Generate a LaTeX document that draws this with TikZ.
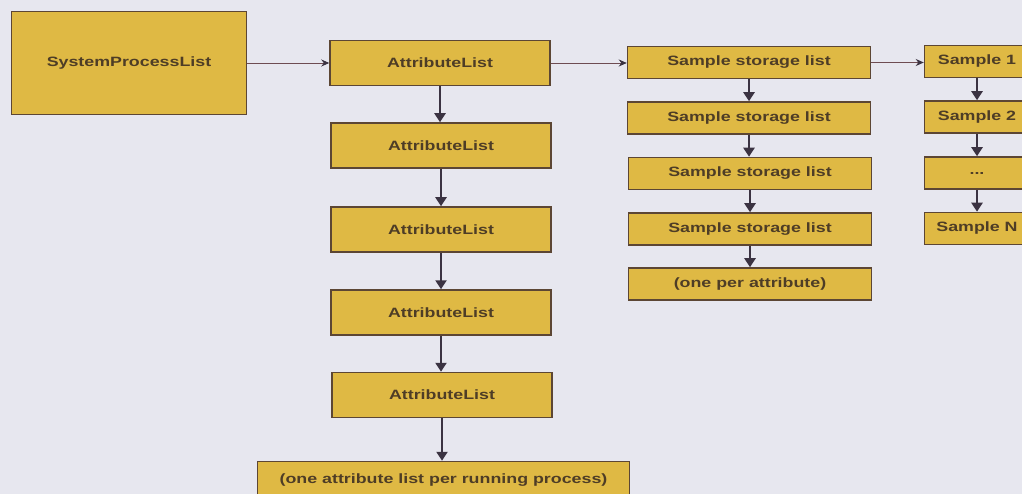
\documentclass[tikz,border=0pt]{standalone}
\usepackage{graphicx}
\usepackage{fontspec}
\setmainfont{Liberation Sans}
\usetikzlibrary{arrows.meta}

\definecolor{bg}{HTML}{E7E7EF}
\definecolor{boxfill}{HTML}{DFB944}
\definecolor{boxline}{HTML}{5C4634}
\definecolor{ink}{HTML}{4E3D26}
\definecolor{thinline}{HTML}{6E4C52}
\definecolor{arrowc}{HTML}{3B3342}

% labels are set slightly widened
\newcommand\widelabel[1]{\scalebox{1.32}[1]{#1}}

\tikzset{
  listbox/.style={draw=boxline, fill=boxfill, line width=1.5pt, inner sep=0pt,
    font=\fontsize{13.5}{16}\selectfont\bfseries, text=ink},
  bigbox/.style={listbox, minimum width=235pt, minimum height=103pt},
  attrbox/.style={listbox, minimum width=220pt, minimum height=45pt},
  storebox/.style={listbox, minimum width=243pt, minimum height=32pt},
  samplebox/.style={listbox, minimum width=105pt, minimum height=32pt},
  tailbox/.style={listbox, minimum width=372pt, minimum height=37pt},
  linkarrow/.style={draw=thinline, line width=0.8pt,
    -{Stealth[length=8pt, width=7pt, color=arrowc]}},
  chainarrow/.style={draw=arrowc, line width=2.2pt,
    -{Triangle[length=9pt, width=11pt, color=arrowc]}},
}

\begin{document}
\begin{tikzpicture}[x=1pt, y=-1pt]
  \fill[bg] (0,0) rectangle (1022,494);
  \useasboundingbox (0,0) rectangle (1022,494);
  \clip (0,0) rectangle (1022,494);

  % process list
  \node[bigbox] (spl) at (129,63) {\widelabel{SystemProcessList}};

  % attribute lists, one per process
  \node[attrbox] (al1) at (440,63)    {\widelabel{AttributeList}};
  \node[attrbox] (al2) at (441,145.5) {\widelabel{AttributeList}};
  \node[attrbox] (al3) at (441,229.5) {\widelabel{AttributeList}};
  \node[attrbox] (al4) at (441,312.5) {\widelabel{AttributeList}};
  \node[attrbox] (al5) at (442,395)   {\widelabel{AttributeList}};
  \node[tailbox] (altail) at (443.5,480)
    {\widelabel{(one attribute list per running process)}};

  % sample storage lists, one per attribute
  \node[storebox] (ss1) at (749,62.5) {\widelabel{Sample storage list}};
  \node[storebox] (ss2) at (749,118)  {\widelabel{Sample storage list}};
  \node[storebox] (ss3) at (750,173.5){\widelabel{Sample storage list}};
  \node[storebox] (ss4) at (750,229)  {\widelabel{Sample storage list}};
  \node[storebox] (sstail) at (750,284) {\widelabel{(one per attribute)}};

  % samples
  \node[samplebox] (s1) at (977,61.5) {\widelabel{Sample 1}};
  \node[samplebox] (s2) at (977,117)  {\widelabel{Sample 2}};
  \node[samplebox] (s3) at (977,173)  {\widelabel{...}};
  \node[samplebox] (sn) at (977,228.5){\widelabel{Sample N}};

  % horizontal links
  \draw[linkarrow] (spl.east |- al1.west) -- (al1.west);
  \draw[linkarrow] (al1.east) -- (al1.east -| ss1.west);
  \draw[linkarrow] (ss1.east) -- (ss1.east -| s1.west);

  % vertical chains
  \draw[chainarrow] (al1.south) -- (al1.south |- al2.north);
  \draw[chainarrow] (al2.south) -- (al2.south |- al3.north);
  \draw[chainarrow] (al3.south) -- (al3.south |- al4.north);
  \draw[chainarrow] (al4.south) -- (al4.south |- al5.north);
  \draw[chainarrow] (al5.south) -- (al5.south |- altail.north);

  \draw[chainarrow] (ss1.south) -- (ss1.south |- ss2.north);
  \draw[chainarrow] (ss2.south) -- (ss2.south |- ss3.north);
  \draw[chainarrow] (ss3.south) -- (ss3.south |- ss4.north);
  \draw[chainarrow] (ss4.south) -- (ss4.south |- sstail.north);

  \draw[chainarrow] (s1.south) -- (s1.south |- s2.north);
  \draw[chainarrow] (s2.south) -- (s2.south |- s3.north);
  \draw[chainarrow] (s3.south) -- (s3.south |- sn.north);
\end{tikzpicture}
\end{document}
